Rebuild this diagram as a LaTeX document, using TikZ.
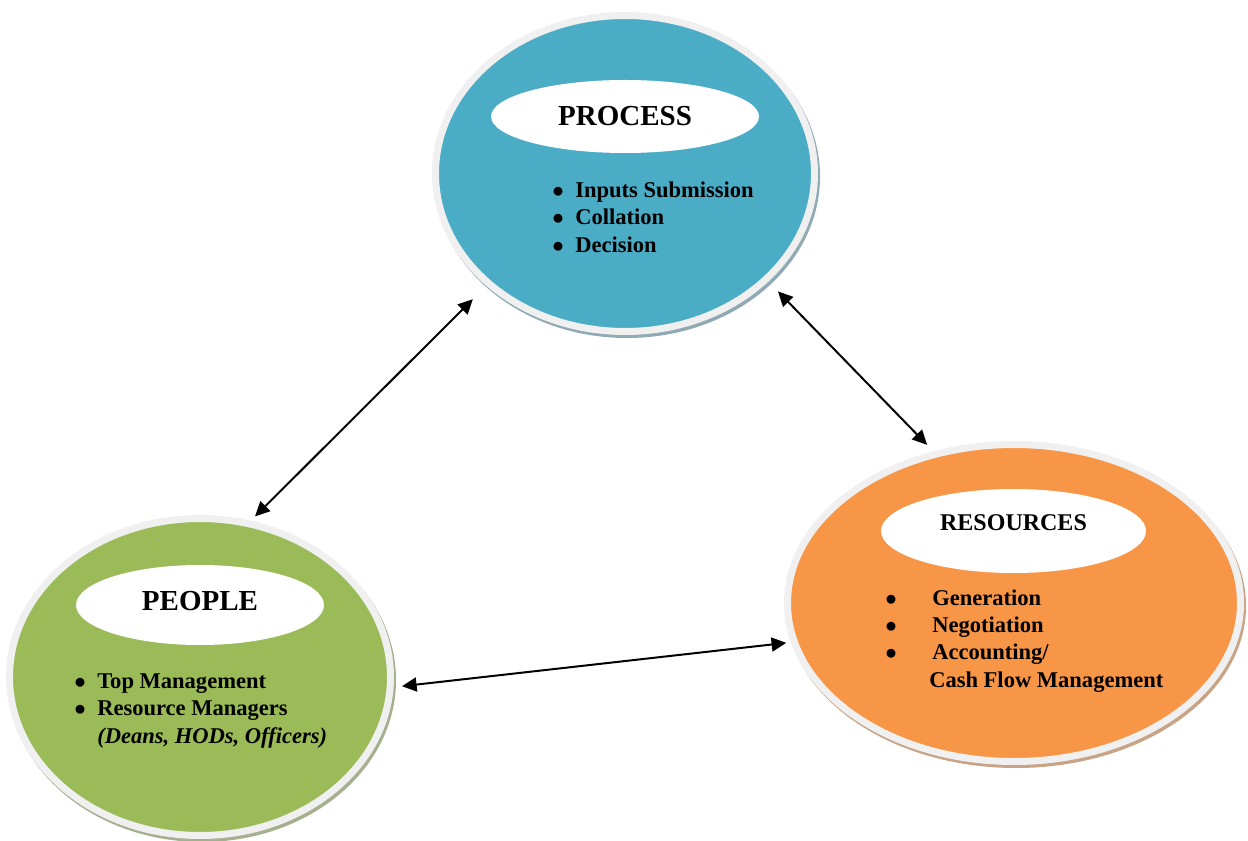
\documentclass[tikz,border=0pt]{standalone}
\usepackage{fontspec}
\setmainfont{Liberation Serif}
\usetikzlibrary{arrows.meta,shapes.geometric,shadows}
\definecolor{procblue}{HTML}{4BACC6}
\definecolor{peoplegreen}{HTML}{9BBB59}
\definecolor{resorange}{HTML}{F79646}
\definecolor{rimgrey}{HTML}{F0F0F0}
\definecolor{procshade}{HTML}{8FAAB5}
\definecolor{peopleshade}{HTML}{A4B08E}
\definecolor{resshade}{HTML}{C9A386}
\newcommand{\blt}[2]{\makebox[#1][l]{$\bullet$}#2}

\begin{document}
\begin{tikzpicture}[x=0.75pt,y=0.75pt,
  stage/.style 2 args={ellipse,draw=rimgrey,line width=5.25pt,inner sep=0pt,fill=#1,
    drop shadow={shadow xshift=1.5pt,shadow yshift=-2.25pt,opacity=1,fill=#2,draw=#2,line width=5.25pt}},
  badge/.style={ellipse,fill=white,inner sep=0pt},
  list/.style={anchor=base west,inner sep=0pt,font=\bfseries\fontsize{16.9}{20.6}\selectfont},
  link/.style={{Triangle[length=11pt,width=10.5pt]}-{Triangle[length=11pt,width=10.5pt]},line width=1.5pt}]
  \useasboundingbox (0,0) rectangle (1248,840);
  \node[stage={procblue}{procshade},minimum width=284.25pt,minimum height=237pt] (proc) at (625,666.5) {};
  \node[stage={peoplegreen}{peopleshade},minimum width=285.75pt,minimum height=237.75pt] (peop) at (200,163) {};
  \node[stage={resorange}{resshade},minimum width=339.75pt,minimum height=237.75pt] (res) at (1014,237) {};
  \node[badge,minimum width=201pt,minimum height=54.75pt,font=\bfseries\fontsize{21.75}{26}\selectfont] (proctitle) at (625,723.5) {PROCESS};
  \node[badge,minimum width=186pt,minimum height=60pt,text depth=6pt,font=\bfseries\fontsize{21.75}{26}\selectfont] (peoptitle) at (200,235) {PEOPLE};
  \node[badge,minimum width=198.75pt,minimum height=63pt,text depth=12pt,font=\bfseries\fontsize{18}{22}\selectfont] (restitle) at (1013.5,309) {RESOURCES};
  \node[list] (proclist) at (552,642.7) {\begin{tabular}[t]{@{}l@{}}
    \blt{17.25pt}{Inputs Submission}\\ \blt{17.25pt}{Collation}\\ \blt{17.25pt}{Decision}\end{tabular}};
  \node[list] (peoplist) at (74,151.7) {\begin{tabular}[t]{@{}l@{}}
    \blt{17.25pt}{Top Management}\\ \blt{17.25pt}{Resource Managers}\\ \hspace*{17.25pt}\textit{(Deans, HODs, Officers)}\end{tabular}};
  \node[list] (reslist) at (885,235) {\begin{tabular}[t]{@{}l@{}}
    \blt{35.25pt}{Generation}\\ \blt{35.25pt}{Negotiation}\\ \blt{35.25pt}{Accounting/}\\ \hspace*{33pt}Cash Flow Management\end{tabular}};
  \draw[link,shorten <=14.25pt,shorten >=4.5pt] (proc.219.5) -- (peop.72);
  \draw[link,shorten <=10.3pt,shorten >=6.75pt] (proc.323) -- (res.118.7);
  \draw[link,shorten <=6.3pt,shorten >=3.5pt] (peop.357) -- (res.190.5);
\end{tikzpicture}
\end{document}
